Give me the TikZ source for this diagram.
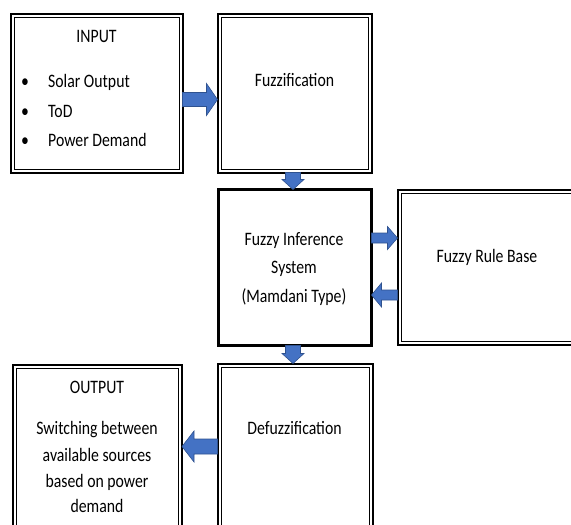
\documentclass[tikz,border=0pt]{standalone}
\usepackage{fontspec}
\setmainfont[FakeStretch=0.83]{Carlito}
\usetikzlibrary{calc}
\definecolor{afill}{RGB}{68,114,196}
\definecolor{aline}{RGB}{47,82,143}
\tikzset{
  box/.style={draw=black, line width=2pt, inner sep=0pt, outer sep=0pt, rectangle},
  innerline/.style={draw=black, line width=0.8pt},
  lbl/.style={anchor=base, inner sep=0pt, font=\fontsize{19}{28}\selectfont},
  barrow/.style={fill=afill, draw=aline, line width=0.6pt, line join=miter},
}
\newcommand\blockarrow[6]{%
  \coordinate (#6h) at ($(#2)!#5!(#1)$);
  \filldraw[barrow] ($(#1)!#3!90:(#2)$) -- ($(#6h)!#3!90:(#2)$) -- ($(#6h)!#4!90:(#2)$) -- (#2)
    -- ($(#6h)!#4!-90:(#2)$) -- ($(#6h)!#3!-90:(#2)$) -- ($(#1)!#3!-90:(#2)$) -- cycle;}
\begin{document}
\begin{tikzpicture}[x=1pt,y=-1pt]
\useasboundingbox (0,0) rectangle (571,525);
\clip (0,0) rectangle (571,525);
% boxes
\node[box, minimum width=172pt, minimum height=158.5pt] (in) at (96.5,93.25) {};
\node[box, minimum width=154pt, minimum height=158.5pt] (fuzz) at (294.5,93.25) {};
\node[box, line width=3pt, minimum width=153pt, minimum height=156pt] (fis) at (295,267.5) {};
\node[box, minimum width=192.5pt, minimum height=155pt] (frb) at (493.75,267) {};
\node[box, minimum width=155pt, minimum height=196.5pt] (defuzz) at (295,461.75) {};
\node[box, minimum width=169pt, minimum height=195pt] (out) at (97.5,462.5) {};
\foreach \b in {in,fuzz,frb,defuzz,out}{
  \draw[innerline] ([shift={(3.5,3.5)}]\b.north west) rectangle ([shift={(-3.5,-3.5)}]\b.south east);
}
% texts
\node[lbl] (intitle) at (96.5,42) {INPUT};
\node[lbl] (bul1) at (25,87) {•};
\node[lbl] (bul2) at (25,117) {•};
\node[lbl] (bul3) at (25,146) {•};
\node[lbl, anchor=base west] (i1) at (48,87) {Solar Output};
\node[lbl, anchor=base west] (i2) at (48,117) {ToD};
\node[lbl, anchor=base west] (i3) at (48,146) {Power Demand};
\node[lbl] (fuzzt) at (294.5,86) {Fuzzification};
\node[lbl] (fis1) at (294,245) {Fuzzy Inference};
\node[lbl] (fis2) at (294,273) {System};
\node[lbl] (fis3) at (294,302) {(Mamdani Type)};
\node[lbl] (frbt) at (487,262) {Fuzzy Rule Base};
\node[lbl] (outtitle) at (97,393) {OUTPUT};
\node[lbl] (o1) at (97,434) {Switching between};
\node[lbl] (o2) at (97,461) {available sources};
\node[lbl] (o3) at (97,487) {based on power};
\node[lbl] (o4) at (97,512) {demand};
\node[lbl] (defuzzt) at (294.5,434) {Defuzzification};
% arrows
\coordinate (a1s) at (in.east |- 0,99.5);
\coordinate (a1e) at (fuzz.west |- 0,99.5);
\blockarrow{a1s}{a1e}{7pt}{16pt}{11pt}{a1}
\coordinate (a2s) at (fuzz.south -| 293,0);
\coordinate (a2e) at (fis.north -| 293,0);
\blockarrow{a2s}{a2e}{7.5pt}{11pt}{10pt}{a2}
\coordinate (a3s) at (fis.east |- 0,238);
\coordinate (a3e) at (frb.west |- 0,238);
\blockarrow{a3s}{a3e}{5pt}{11.5pt}{10pt}{a3}
\coordinate (a4s) at (frb.west |- 0,295);
\coordinate (a4e) at (fis.east |- 0,295);
\blockarrow{a4s}{a4e}{5pt}{12pt}{10pt}{a4}
\coordinate (a5s) at (fis.south -| 293,0);
\coordinate (a5e) at (defuzz.north -| 293,0);
\blockarrow{a5s}{a5e}{7.5pt}{11pt}{10pt}{a5}
\coordinate (a6s) at (defuzz.west |- 0,446.5);
\coordinate (a6e) at (out.east |- 0,446.5);
\blockarrow{a6s}{a6e}{7.5pt}{15.5pt}{12pt}{a6}
\end{tikzpicture}
\end{document}
